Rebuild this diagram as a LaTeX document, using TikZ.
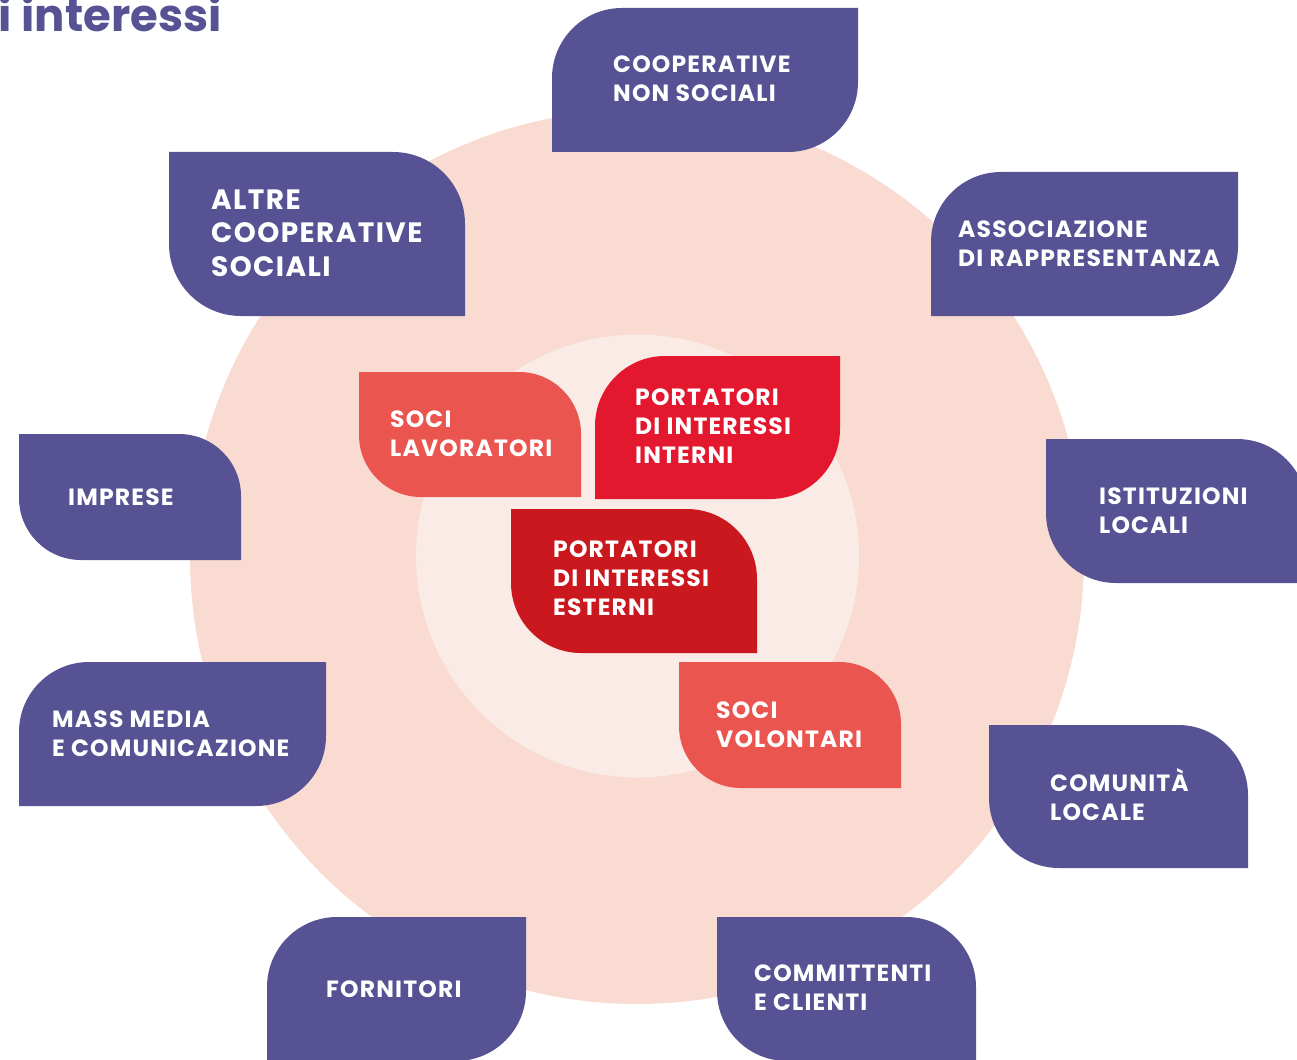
\documentclass[tikz,border=0pt]{standalone}
\usepackage{fontspec}
\setmainfont{Poppins}
\newfontfamily\lblfont[LetterSpace=5]{Poppins}
\definecolor{lav}{RGB}{86,82,148}
\definecolor{ringout}{RGB}{249,219,209}
\definecolor{ringin}{RGB}{251,235,230}
\definecolor{coral}{RGB}{234,85,80}
\definecolor{redin}{RGB}{227,23,45}
\definecolor{redout}{RGB}{202,24,30}
% type A: top-left and bottom-right rounded; type B: top-right and bottom-left rounded
\newcommand{\leafA}[6]{%
  \fill[#6] [rounded corners=#5pt] (#1,#2) rectangle (#3,#4)
    [sharp corners] ({#3-#5},#2) rectangle (#3,{#2+#5})
    (#1,{#4-#5}) rectangle ({#1+#5},#4);}
\newcommand{\leafB}[6]{%
  \fill[#6] [rounded corners=#5pt] (#1,#2) rectangle (#3,#4)
    [sharp corners] (#1,#2) rectangle ({#1+#5},{#2+#5})
    ({#3-#5},{#4-#5}) rectangle (#3,#4);}
\tikzset{
  lbl/.style={text=white, font=\lblfont\bfseries\fontsize{23.5}{29}\selectfont, align=left, anchor=west, inner sep=0pt},
  lblbig/.style={lbl, font=\lblfont\bfseries\fontsize{28}{33.5}\selectfont},
}
\begin{document}
\begin{tikzpicture}[x=1pt,y=-1pt]
\useasboundingbox (0,0) rectangle (1297,1059);
\clip (0,0) rectangle (1297,1059);
% rings
\fill[ringout] (637,557) circle (447);
\fill[ringin] (637.5,556) circle (221.5);
% title
\node[anchor=base east, inner sep=0pt, text=lav, font=\bfseries\fontsize{45}{48}\selectfont] (title) at (222,32) {i interessi};
% outer stakeholder boxes
\leafA{552}{8}{858}{152}{70}{lav}
\node[lbl] (coop) at (613,79) {COOPERATIVE\\NON SOCIALI};
\leafB{169}{152}{465}{316}{72}{lav}
\node[lblbig] (altre) at (211,233) {ALTRE\\COOPERATIVE\\SOCIALI};
\leafA{931}{172}{1238}{316}{70}{lav}
\node[lbl] (assoc) at (958,244) {ASSOCIAZIONE\\DI RAPPRESENTANZA};
\leafB{1046}{439}{1307}{583}{70}{lav}
\node[lbl] (istit) at (1099,511) {ISTITUZIONI\\LOCALI};
\leafB{19}{434}{241}{560}{62}{lav}
\node[lbl] (impr) at (68,497) {IMPRESE};
\leafA{19}{662}{326}{806}{70}{lav}
\node[lbl] (mass) at (52,734) {MASS MEDIA\\E COMUNICAZIONE};
\leafB{989}{725}{1248}{868}{70}{lav}
\node[lbl] (comun) at (1050,795) {COMUNITÀ\\LOCALE};
\leafA{267}{917}{526}{1061}{70}{lav}
\node[lbl] (forn) at (326,989) {FORNITORI};
\leafB{717}{917}{976}{1061}{70}{lav}
\node[lbl] (comm) at (754,988) {COMMITTENTI\\E CLIENTI};
% inner boxes
\leafB{359}{372}{581}{497}{62}{coral}
\node[lbl] (soclav) at (390,433.5) {SOCI\\LAVORATORI};
\leafA{595}{356}{840}{499}{70}{redin}
\node[lbl] (ptint) at (635,426.5) {PORTATORI\\DI INTERESSI\\INTERNI};
\leafB{511}{509}{757}{653}{70}{redout}
\node[lbl] (ptest) at (553,578) {PORTATORI\\DI INTERESSI\\ESTERNI};
\leafB{679}{662}{901}{788}{62}{coral}
\node[lbl] (socvol) at (716,725) {SOCI\\VOLONTARI};
\end{tikzpicture}
\end{document}
